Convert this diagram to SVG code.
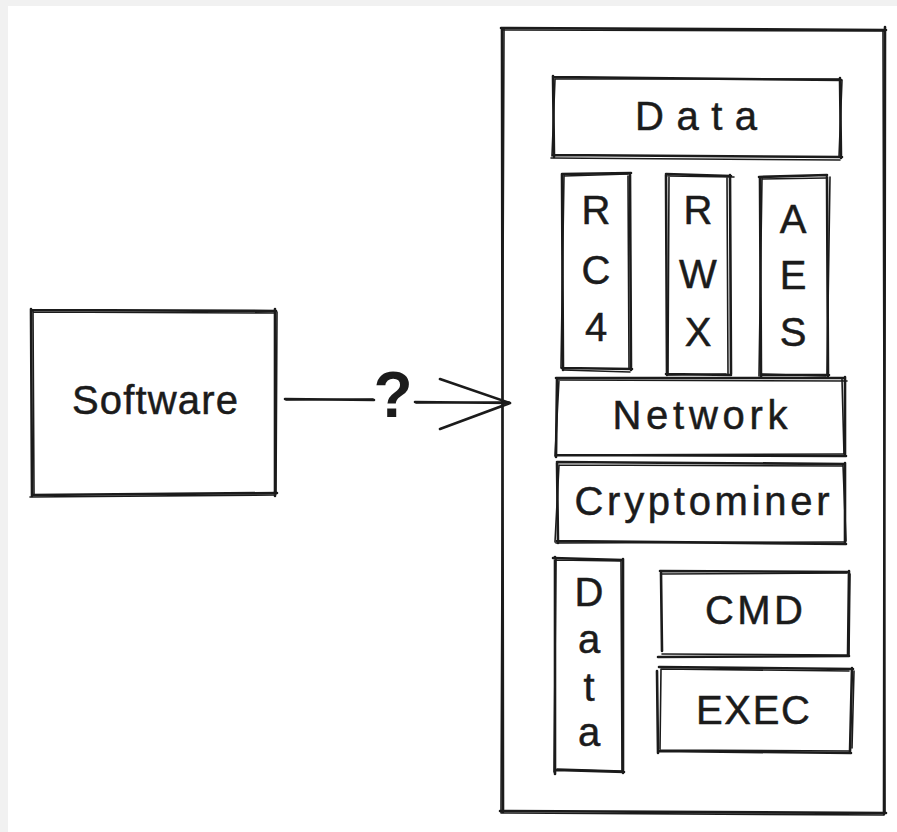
<svg xmlns="http://www.w3.org/2000/svg" width="897" height="832" viewBox="0 0 897 832">
  <style>
    .sk { fill: none; stroke: #1b1b1b; stroke-width: 2.6; stroke-linecap: round; stroke-linejoin: round; }
    .sk2 { fill: none; stroke: #1b1b1b; stroke-width: 1.6; stroke-linecap: round; }
    .lbl { font-family: "Liberation Sans", "DejaVu Sans", sans-serif; font-size: 40px; fill: #1b1b1b; stroke: #1b1b1b; stroke-width: 0.5; text-anchor: middle; }
    .q { font-family: "Liberation Sans", "DejaVu Sans", sans-serif; font-size: 64px; font-weight: bold; fill: #1b1b1b; text-anchor: middle; }
  </style>

  <!-- page background with light margin -->
  <rect x="0" y="0" width="897" height="832" fill="#f1f1f1"/>
  <rect x="8" y="6" width="889" height="826" fill="#ffffff"/>

  <!-- Software -->
  <g id="software">
    <path class="sk" d="M31,310 L276,311 M275,309 L275,496 M277,493 L32,495 M32,496 L31,309"/>
    <path class="sk2" d="M33,312 L274,313 M277,312 L276,494 M275,495 L30,497 M34,494 L33,311"/>
    <text class="lbl" x="155" y="414" textLength="166" lengthAdjust="spacing">Software</text>
  </g>

  <!-- outer container -->
  <g id="container">
    <path class="sk" d="M501,28 L886,30 M885,27 L884,814 M886,813 L500,811 M503,812 L502,29"/>
    <path class="sk2" d="M503,30 L884,31 M883,30 L885,812 M884,815 L501,813 M501,813 L504,28"/>
  </g>

  <!-- Data (top) -->
  <g id="data-top">
    <path class="sk" d="M553,77 L841,80 M840,78 L841,158 M842,157 L553,155 M554,157 L553,76"/>
    <path class="sk2" d="M555,79 L839,79 M842,80 L839,157 M840,160 L551,158 M552,156 L555,79"/>
    <text class="lbl" x="696" y="130" textLength="122" lengthAdjust="spacing">Data</text>
  </g>

  <!-- RC4 -->
  <g id="rc4">
    <path class="sk" d="M562,174 L631,173 M630,175 L631,370 M632,369 L562,368 M563,370 L562,174"/>
    <path class="sk2" d="M564,176 L628,174 M628,176 L629,368 M630,372 L563,370 M561,368 L564,175"/>
    <text class="lbl" x="596" y="224">R</text>
    <text class="lbl" x="596" y="284">C</text>
    <text class="lbl" x="596" y="341">4</text>
  </g>

  <!-- RWX -->
  <g id="rwx">
    <path class="sk" d="M666,174 L731,176 M730,175 L731,374 M731,375 L666,374 M667,375 L666,175"/>
    <path class="sk2" d="M668,176 L734,177 M727,177 L728,374 M726,374 L667,375 M668,373 L669,176"/>
    <text class="lbl" x="698" y="224">R</text>
    <text class="lbl" x="698" y="288">W</text>
    <text class="lbl" x="698" y="346">X</text>
  </g>

  <!-- AES -->
  <g id="aes">
    <path class="sk" d="M759,177 L827,175 M827,177 L828,376 M829,375 L761,375 M761,377 L760,178"/>
    <path class="sk2" d="M762,179 L826,178 M830,177 L827,375 M826,376 L762,374 M759,376 L762,178"/>
    <text class="lbl" x="793" y="233">A</text>
    <text class="lbl" x="793" y="289">E</text>
    <text class="lbl" x="793" y="346">S</text>
  </g>

  <!-- Network -->
  <g id="network">
    <path class="sk" d="M556,378 L845,378 M845,377 L845,456 M846,456 L557,455 M556,457 L557,379"/>
    <path class="sk2" d="M558,380 L847,381 M842,379 L844,455 M845,454 L555,455 M555,456 L559,380"/>
    <text class="lbl" x="700" y="429" textLength="175" lengthAdjust="spacing">Network</text>
  </g>

  <!-- Cryptominer -->
  <g id="cryptominer">
    <path class="sk" d="M557,462 L845,464 M845,463 L845,543 M846,544 L557,541 M558,543 L557,463"/>
    <path class="sk2" d="M559,465 L843,466 M843,465 L846,541 M844,542 L556,543 M555,542 L559,465"/>
    <text class="lbl" x="702" y="515" textLength="255" lengthAdjust="spacing">Cryptominer</text>
  </g>

  <!-- Data (vertical) -->
  <g id="data-vertical">
    <path class="sk" d="M553,558 L623,560 M623,559 L623,773 M624,772 L556,770 M555,774 L555,557"/>
    <path class="sk2" d="M556,560 L621,561 M621,560 L622,770 M622,771 L557,769 M554,772 L556,559"/>
    <text class="lbl" x="589" y="606">D</text>
    <text class="lbl" x="589" y="653">a</text>
    <text class="lbl" x="589" y="701">t</text>
    <text class="lbl" x="589" y="746">a</text>
  </g>

  <!-- CMD -->
  <g id="cmd">
    <path class="sk" d="M660,571 L849,572 M849,571 L848,656 M849,656 L658,657 M662,651 L661,573"/>
    <path class="sk2" d="M662,574 L847,573 M850,574 L849,655 M847,655 L662,654"/>
    <text class="lbl" x="754" y="624" textLength="98" lengthAdjust="spacing">CMD</text>
  </g>

  <!-- EXEC -->
  <g id="exec">
    <path class="sk" d="M659,667 L853,669 M852,668 L850,752 M851,753 L659,751 M658,753 L657,671"/>
    <path class="sk2" d="M661,669 L849,671 M854,671 L852,748 M849,751 L660,750 M660,749 L661,669"/>
    <text class="lbl" x="753" y="724" textLength="114" lengthAdjust="spacing">EXEC</text>
  </g>

  <!-- connector: Software -> container -->
  <g id="connectors">
    <path class="sk" d="M285,399 L374,400 M415,402 L510,403 M440,379 L510,403 M440,429 L510,403"/>
    <path class="sk2" d="M286,400 L373,399 M416,403 L509,402"/>
    <text class="q" x="393" y="417">?</text>
  </g>
</svg>
